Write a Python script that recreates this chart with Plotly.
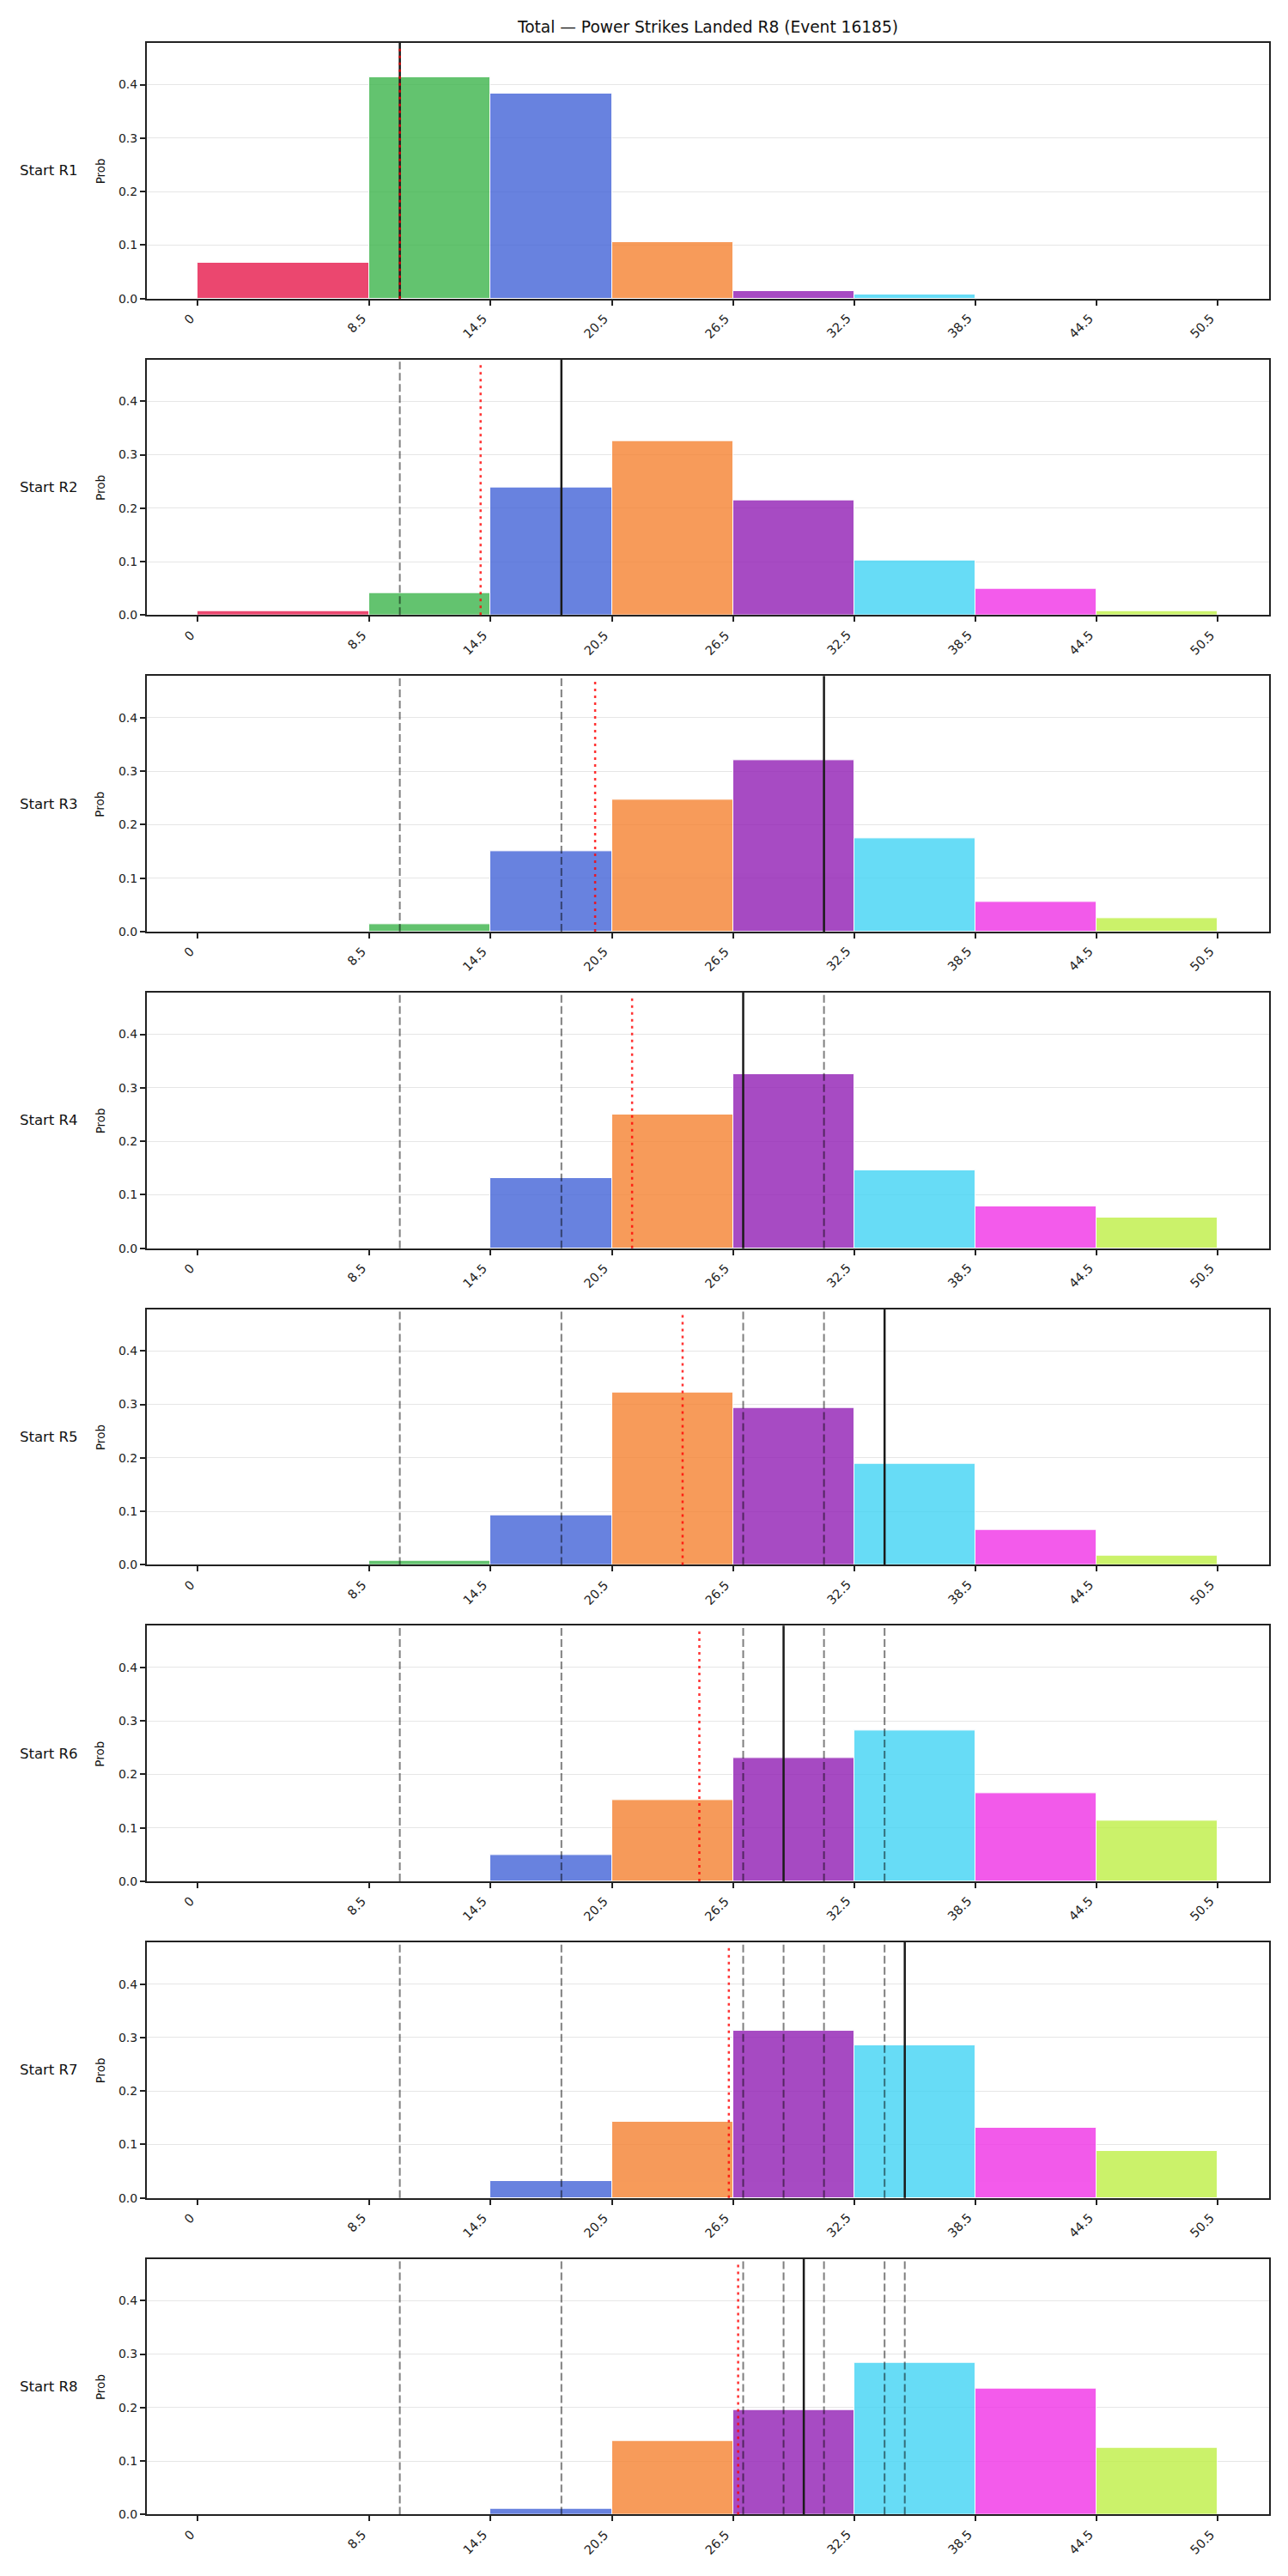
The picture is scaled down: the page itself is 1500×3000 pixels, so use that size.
import plotly.graph_objects as go

# ---------------- data ----------------
bin_edges = [0, 8.5, 14.5, 20.5, 26.5, 32.5, 38.5, 44.5, 50.5]
tick_labels = ["0", "8.5", "14.5", "20.5", "26.5", "32.5", "38.5", "44.5", "50.5"]
bin_colors = ["#e6194b", "#3cb44b", "#4363d8", "#f58231",
              "#911eb4", "#42d4f4", "#f032e6", "#bfef45"]
row_labels = ["Start R1", "Start R2", "Start R3", "Start R4",
              "Start R5", "Start R6", "Start R7", "Start R8"]

prob_r1 = [0.067, 0.413, 0.383, 0.105, 0.014, 0.0075, 0.0, 0.0]
prob_r2 = [0.0075, 0.042, 0.238, 0.325, 0.214, 0.102, 0.049, 0.007]
prob_r3 = [0.0, 0.014, 0.151, 0.247, 0.321, 0.175, 0.0555, 0.025]
prob_r4 = [0.0, 0.0, 0.131, 0.250, 0.325, 0.1455, 0.079, 0.057]
prob_r5 = [0.0, 0.0075, 0.0924, 0.3216, 0.294, 0.1886, 0.065, 0.017]
prob_r6 = [0.0, 0.0, 0.049, 0.152, 0.230, 0.282, 0.165, 0.113]
prob_r7 = [0.0, 0.0, 0.0314, 0.1417, 0.3127, 0.2856, 0.1305, 0.0874]
prob_r8 = [0.0, 0.0, 0.0107, 0.137, 0.195, 0.283, 0.235, 0.1246]
probs = [prob_r1, prob_r2, prob_r3, prob_r4, prob_r5, prob_r6, prob_r7, prob_r8]

# solid black line per round (actual), red dotted line (running average)
actual_values = [10, 18, 31, 27, 34, 29, 35, 30]
running_avg = [10.0, 14.0, 19.67, 21.5, 24.0, 24.83, 26.29, 26.75]

y_tick_vals = [0, 0.1, 0.2, 0.3, 0.4]
y_tick_text = ["0.0", "0.1", "0.2", "0.3", "0.4"]

title_text = "Total \u2014 Power Strikes Landed R8 (Event 16185)"

# ---------------- layout geometry (pixels) ----------------
W, H = 1500, 3000
LEFT, RIGHT = 171, 1477.7
TOP0, PERIOD, PH = 50, 368.67, 297.7
YMAX = 0.478
XR = [-2.525, 53.025]
FONT = "DejaVu Sans"

centers = [(bin_edges[i] + bin_edges[i + 1]) / 2 for i in range(len(bin_edges) - 1)]
widths = [bin_edges[i + 1] - bin_edges[i] for i in range(len(bin_edges) - 1)]

fig = go.Figure()
shapes = []
annotations = []
layout_axes = {}

for i, p in enumerate(probs):
    n = i + 1
    xa = "x" if n == 1 else f"x{n}"
    ya = "y" if n == 1 else f"y{n}"
    fig.add_trace(go.Bar(
        x=centers, y=p, width=widths, xaxis=xa, yaxis=ya,
        marker=dict(color=bin_colors, line=dict(color="white", width=1)),
        opacity=0.8, showlegend=False, hoverinfo="x+y",
    ))
    top = TOP0 + PERIOD * i
    bot = top + PH
    dom_y = [1 - bot / H, 1 - top / H]
    xkey = "xaxis" if n == 1 else f"xaxis{n}"
    ykey = "yaxis" if n == 1 else f"yaxis{n}"
    layout_axes[xkey] = dict(
        domain=[LEFT / W, RIGHT / W], anchor=ya, range=XR,
        tickmode="array", tickvals=bin_edges, showticklabels=False,
        ticks="outside", ticklen=6, tickwidth=1.5, tickcolor="#222",
        showline=True, linecolor="#222", linewidth=2, mirror=True,
        showgrid=False, zeroline=False, automargin=False,
    )
    layout_axes[ykey] = dict(
        domain=dom_y, anchor=xa, range=[0, YMAX],
        tickmode="array", tickvals=y_tick_vals, ticktext=y_tick_text,
        ticks="outside", ticklen=6, tickwidth=1.5, tickcolor="#222",
        showline=True, linecolor="#222", linewidth=2, mirror=True,
        showgrid=True, gridcolor="#e6e6e6", gridwidth=1,
        zeroline=False, automargin=False,
        tickfont=dict(family=FONT, size=14, color="#222"),
    )
    # rotated x tick labels (right/top aligned like the reference)
    for tv, tt in zip(bin_edges, tick_labels):
        annotations.append(dict(text=tt, xref=xa, yref="paper", x=tv,
                                y=1 - (bot + 14) / H, xanchor="right", yanchor="top",
                                textangle=-45, showarrow=False, borderpad=0,
                                font=dict(family=FONT, size=14.5, color="#222")))
    # previous actual values: grey dashed
    for v in actual_values[:i]:
        shapes.append(dict(type="line", xref=xa, yref=f"{ya} domain",
                           x0=v, x1=v, y0=0, y1=1,
                           line=dict(color="rgba(0,0,0,0.5)", width=2, dash="9px,4px")))
    # current actual: black solid
    v = actual_values[i]
    shapes.append(dict(type="line", xref=xa, yref=f"{ya} domain",
                       x0=v, x1=v, y0=0, y1=1,
                       line=dict(color="#1a1a1a", width=2.5)))
    # running average: red dotted
    r = running_avg[i]
    shapes.append(dict(type="line", xref=xa, yref=f"{ya} domain",
                       x0=r, x1=r, y0=0, y1=0.98,
                       line=dict(color="rgba(255,0,0,0.8)", width=2.5, dash="3px,5px")))
    ymid = 1 - (top + PH / 2) / H
    annotations.append(dict(text=row_labels[i], xref="paper", yref="paper",
                            x=56.5 / W, y=ymid, xanchor="center", yanchor="middle",
                            showarrow=False, font=dict(family=FONT, size=16.5, color="#111")))
    annotations.append(dict(text="Prob", xref="paper", yref="paper",
                            x=116.5 / W, y=ymid, xanchor="center", yanchor="middle",
                            textangle=-90, showarrow=False,
                            font=dict(family=FONT, size=13.5, color="#111")))

annotations.append(dict(text=title_text, xref="paper", yref="paper",
                        x=(LEFT + RIGHT) / 2 / W, y=1 - 31.5 / H,
                        xanchor="center", yanchor="middle", showarrow=False,
                        font=dict(family=FONT, size=18.6, color="#111")))

fig.update_layout(
    width=W, height=H,
    margin=dict(l=0, r=0, t=0, b=0),
    paper_bgcolor="white", plot_bgcolor="white",
    bargap=0, barmode="overlay",
    shapes=shapes, annotations=annotations,
    **layout_axes,
)

fig.write_html("out.html")
